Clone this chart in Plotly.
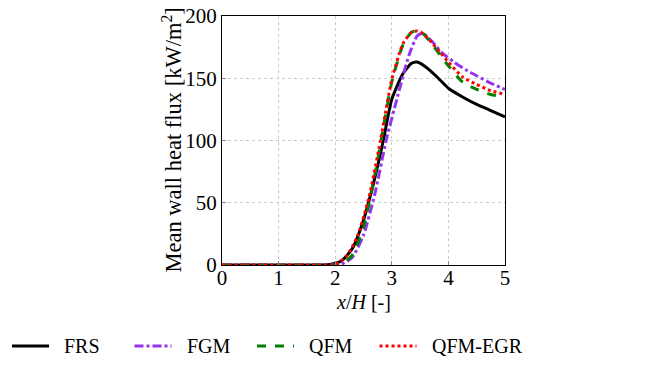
import plotly.graph_objects as go

FONT = 'Liberation Serif'

# x/H positions and mean wall heat flux [kW/m2]
frs_x = [0, 1.6, 1.9, 2.1, 2.3, 2.5, 2.7, 2.85, 3.0, 3.2, 3.35, 3.45, 3.6, 3.8, 4.0, 4.25, 4.5, 4.75, 5.0]
frs_y = [0, 0, 0.5, 3, 13, 36, 70, 100, 133, 154, 162, 163, 159, 151, 142, 135, 129, 124, 119]

fgm_x = [0, 1.8, 2.1, 2.3, 2.5, 2.7, 2.9, 3.1, 3.3, 3.45, 3.55, 3.7, 3.9, 4.1, 4.3, 4.5, 4.75, 5.0]
fgm_y = [0, 0, 0.5, 6, 24, 57, 100, 135, 168, 184, 186, 180, 170, 163, 157, 152, 146, 141]

qfm_x = [0, 1.8, 2.1, 2.3, 2.5, 2.7, 2.85, 3.0, 3.2, 3.35, 3.45, 3.55, 3.7, 3.85, 4.0, 4.25, 4.5, 4.75, 5.0]
qfm_y = [0, 0, 0.5, 8, 30, 72, 110, 147, 177, 187, 188, 186, 178, 169, 160, 147, 141, 137, 135]

egr_x = [0, 1.7, 2.0, 2.2, 2.4, 2.6, 2.8, 3.0, 3.2, 3.35, 3.45, 3.55, 3.7, 3.85, 4.0, 4.25, 4.5, 4.75, 5.0]
egr_y = [0, 0, 0.5, 7, 24, 55, 100, 149, 178, 187, 188, 186, 179, 171, 163, 151, 145, 140, 137]

series = [
    ('FRS', frs_x, frs_y, 'black', 'solid'),
    ('FGM', fgm_x, fgm_y, '#9433f0', 'dashdot'),
    ('QFM', qfm_x, qfm_y, '#008000', 'dash'),
    ('QFM-EGR', egr_x, egr_y, '#ff0000', 'dot'),
]

# plot box in pixels: left 222, right 505, top 16, bottom 265
PL, PW, PT, PH = 222, 283, 16, 249
def px_x(p):
    return (p - PL) / PW
def px_y(p):
    return (PT + PH - p) / PH

fig = go.Figure()
for name, xs, ys, color, dash in series:
    fig.add_trace(go.Scatter(x=xs, y=ys, name=name, mode='lines', showlegend=False,
                             line=dict(color=color, width=3, dash=dash, shape='spline', smoothing=0.6)))

# legend row drawn below the axes
leg_y = px_y(346)
for i, (name, xs, ys, color, dash) in enumerate(series):
    x0 = 12 + i * 122.5
    fig.add_shape(type='line', xref='paper', yref='paper',
                  x0=px_x(x0), x1=px_x(x0 + 37), y0=leg_y, y1=leg_y,
                  line=dict(color=color, width=3, dash=dash))
    fig.add_annotation(xref='paper', yref='paper', x=px_x(x0 + 50), y=leg_y,
                       text=name, showarrow=False, xanchor='left', yanchor='middle',
                       font=dict(family=FONT, size=20, color='black'))

fig.add_annotation(xref='paper', yref='paper', x=0.5, y=px_y(302),
                   text='<i>x</i>/<i>H</i> [-]', showarrow=False,
                   xanchor='center', yanchor='middle', font=dict(family=FONT, size=20, color='black'))
fig.add_annotation(xref='paper', yref='paper', x=px_x(171), y=0.5, textangle=-90,
                   text='Mean wall heat flux [kW/m<sup>2</sup>]', showarrow=False,
                   xanchor='center', yanchor='middle', font=dict(family=FONT, size=22.5, color='black'))

axis_common = dict(
    showline=True, linecolor='black', linewidth=1, mirror=True,
    ticks='inside', ticklen=4, tickcolor='#888888',
    showgrid=True, gridcolor='#cccccc', griddash='dot', gridwidth=1,
    zeroline=False, tickfont=dict(family=FONT, size=21, color='black'),
)

fig.update_xaxes(range=[0, 5], dtick=1, ticklabelstandoff=-6, **axis_common)
fig.update_yaxes(range=[0, 200], dtick=50, **axis_common)

fig.update_layout(
    width=662, height=378,
    margin=dict(l=PL, r=662 - PL - PW, t=PT, b=378 - PT - PH, autoexpand=False),
    paper_bgcolor='white', plot_bgcolor='white',
    font=dict(family=FONT, size=20, color='black'),
    showlegend=False,
)

fig.write_html('out.html', config={'displayModeBar': False},
               post_script="document.body.style.margin='0';")
